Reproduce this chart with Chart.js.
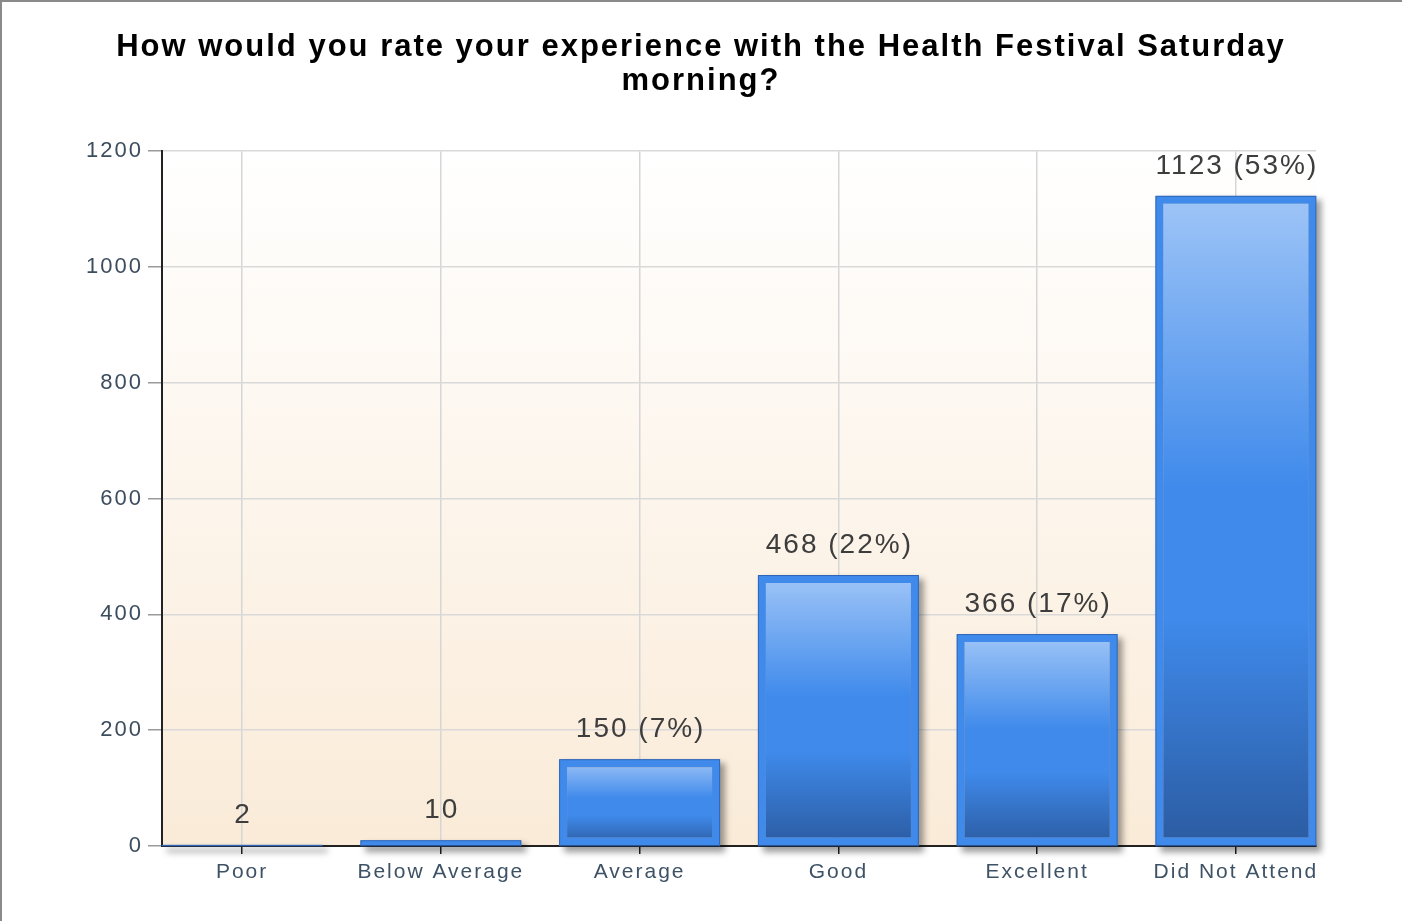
<!DOCTYPE html>
<html lang="en">
<head>
<meta charset="UTF-8">
<script src="https://cdn.jsdelivr.net/npm/chart.js"></script>
<title>Health Festival</title>
<style>
  body { margin: 0; background: #fff; }
  #frame { position: absolute; left: 0; top: 0; width: 1402px; height: 921px; box-sizing: border-box;
           border-top: 2px solid #8a8a8a; border-left: 2px solid #8a8a8a; pointer-events: none; }
  canvas { position: absolute; left: 0; top: 0; }
</style>
</head>
<body>
<canvas id="grafico" width="1402" height="921"></canvas>
<div id="frame"></div>
<script>
var categorias = ['Poor', 'Below Average', 'Average', 'Good', 'Excellent', 'Did Not Attend'];
var respostas = [2, 10, 150, 468, 366, 1123];
var ticksY = [0, 200, 400, 600, 800, 1000, 1200];
var titulo = ['How would you rate your experience with the Health Festival Saturday', 'morning?'];

var total = respostas.reduce(function (a, b) { return a + b; }, 0);

function rotulo(v) {
  var pct = Math.round(v / total * 100);
  return pct >= 1 ? v + ' (' + pct + '%)' : String(v);
}

// fundo degradê da área do gráfico + espaçamento das letras
var fundo = {
  id: 'fundo',
  beforeDraw: function (chart) {
    var ctx = chart.ctx, a = chart.chartArea;
    ctx.letterSpacing = '2px';
    var g = ctx.createLinearGradient(0, a.top, 0, a.bottom);
    g.addColorStop(0, '#ffffff');
    g.addColorStop(1, '#faebd8');
    ctx.save();
    ctx.fillStyle = g;
    ctx.fillRect(a.left, a.top, a.right - a.left, a.bottom - a.top);
    ctx.restore();
  }
};

// sombra das barras e rótulos de valor
var barras = {
  id: 'barras',
  beforeDatasetsDraw: function (chart) {
    var ctx = chart.ctx;
    var meta = chart.getDatasetMeta(0);
    ctx.save();
    ctx.filter = 'blur(3px)';
    ctx.fillStyle = 'rgba(0,0,0,0.38)';
    meta.data.forEach(function (el) {
      var x = el.x - el.width / 2;
      ctx.fillRect(x + 5, el.y + 4, el.width, el.base - el.y + 3);
    });
    ctx.restore();
  },
  afterDatasetsDraw: function (chart) {
    var ctx = chart.ctx;
    var meta = chart.getDatasetMeta(0);
    ctx.save();
    ctx.strokeStyle = '#2f66b8';
    ctx.lineWidth = 1;
    meta.data.forEach(function (el) {
      var x = el.x - el.width / 2;
      ctx.strokeRect(x + 0.5, el.y + 0.5, el.width - 1, el.base - el.y);
    });
    ctx.font = '28px "Liberation Sans", Arial, sans-serif';
    ctx.fillStyle = '#3d3d3d';
    ctx.textAlign = 'center';
    ctx.textBaseline = 'middle';
    meta.data.forEach(function (el, i) {
      ctx.fillText(rotulo(respostas[i]), el.x + 1, el.y - 30);
    });
    ctx.restore();
  }
};

function degrade(context) {
  var chart = context.chart;
  var y = chart.scales.y;
  if (!chart.chartArea || !y || !context.raw) return '#3f8aeb';
  var topo = y.getPixelForValue(context.raw.y);
  var base = y.getPixelForValue(0);
  if (base - topo < 2) return '#3f8aeb';
  var g = chart.ctx.createLinearGradient(0, topo, 0, base);
  g.addColorStop(0, '#9fc5f7');
  g.addColorStop(0.45, '#3f8aeb');
  g.addColorStop(0.65, '#3f8aeb');
  g.addColorStop(1, '#2b5ba1');
  return g;
}

// tabela {x, y} montada a partir dos arrays
var pontos = respostas.map(function (v, i) { return { x: i, y: v }; });

new Chart(document.getElementById('grafico'), {
  type: 'bar',
  data: {
    datasets: [{
      data: pontos,
      backgroundColor: degrade,
      borderColor: '#3f8aeb',
      borderWidth: 8,
      borderSkipped: false,
      categoryPercentage: 1,
      barPercentage: 0.81
    }]
  },
  options: {
    responsive: false,
    animation: false,
    layout: { padding: { left: 48, right: 48, top: 0, bottom: 0 } },
    plugins: {
      legend: { display: false },
      tooltip: { enabled: false },
      title: {
        display: true,
        text: titulo,
        color: '#000',
        font: { family: '"Liberation Sans", Arial, sans-serif', size: 31, weight: 'bold', lineHeight: 1.1 },
        padding: { top: 30, bottom: 53 }
      }
    },
    scales: {
      x: {
        type: 'linear',
        offset: false,
        // as barras ficam a meia largura das bordas, não a meia categoria
        min: -0.403,
        max: categorias.length - 1 + 0.403,
        afterBuildTicks: function (s) { s.ticks = categorias.map(function (c, i) { return { value: i }; }); },
        afterFit: function (s) { s.height = 75; },
        grid: { offset: false, color: '#d6d6d6', lineWidth: 1.5, tickColor: '#222', tickLength: 8 },
        border: { color: '#222', width: 2 },
        ticks: {
          color: '#3e5266',
          padding: 6,
          autoSkip: false,
          maxRotation: 0,
          callback: function (v) { return categorias[v]; },
          font: { family: '"Liberation Sans", Arial, sans-serif', size: 21 }
        }
      },
      y: {
        min: 0,
        max: 1200,
        afterFit: function (s) { s.width = 114; },
        afterBuildTicks: function (s) { s.ticks = ticksY.map(function (v) { return { value: v }; }); },
        grid: { color: '#d9d9d9', lineWidth: 1.5, tickColor: '#9a9a9a', tickLength: 14 },
        border: { color: '#222', width: 2 },
        ticks: {
          color: '#3c4d5e',
          padding: 5,
          callback: function (v) { return String(v); },
          font: { family: '"Liberation Sans", Arial, sans-serif', size: 22 }
        }
      },
      // eixo vazio à direita só para reservar a margem
      yDir: {
        position: 'right',
        min: 0,
        max: 1200,
        afterFit: function (s) { s.width = 38; },
        grid: { display: false },
        border: { display: false },
        ticks: { display: false }
      }
    }
  },
  plugins: [fundo, barras]
});
</script>
</body>
</html>
